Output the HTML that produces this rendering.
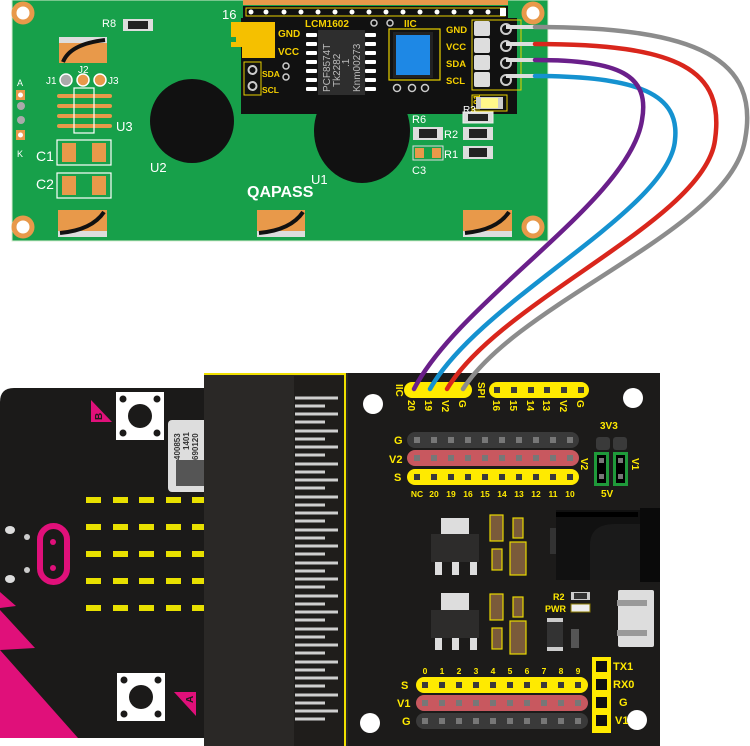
<!DOCTYPE html>
<html><head><meta charset="utf-8"><style>
html,body{margin:0;padding:0;background:#fff;}
svg{display:block;font-family:"Liberation Sans",sans-serif;}
</style></head><body>
<svg width="750" height="746" viewBox="0 0 750 746" xmlns="http://www.w3.org/2000/svg">
<!-- LCD board -->
<rect x="12" y="0" width="536" height="241" fill="#17a04a"/>
<rect x="12" y="0" width="536" height="241" fill="none" stroke="#d8eed2" stroke-width="1"/>
<g fill="#fff" stroke="#e8994a" stroke-width="5">
<circle cx="23" cy="13" r="9"/><circle cx="533" cy="13" r="9"/><circle cx="23" cy="227" r="9"/><circle cx="533" cy="227" r="9"/>
</g>
<g fill="#e8994a">
<rect x="243" y="0" width="265" height="5"/>
</g>
<rect x="243" y="6" width="265" height="12" fill="#111"/>
<rect x="246" y="8" width="259" height="8" fill="none" stroke="#e8d000" stroke-width="1"/>
<g fill="#fff">
<circle cx="251" cy="12" r="2.5"/><circle cx="266" cy="12" r="2.5"/><circle cx="284" cy="12" r="2.5"/><circle cx="301" cy="12" r="2.5"/><circle cx="318" cy="12" r="2.5"/><circle cx="335" cy="12" r="2.5"/><circle cx="352" cy="12" r="2.5"/><circle cx="369" cy="12" r="2.5"/><circle cx="386" cy="12" r="2.5"/><circle cx="403" cy="12" r="2.5"/><circle cx="420" cy="12" r="2.5"/><circle cx="437" cy="12" r="2.5"/><circle cx="454" cy="12" r="2.5"/><circle cx="471" cy="12" r="2.5"/><circle cx="488" cy="12" r="2.5"/>
<rect x="500" y="8" width="6" height="8"/>
</g>
<text x="222" y="19" font-size="13" fill="#fff">16</text>
<text x="102" y="27" font-size="11" fill="#fff">R8</text>
<rect x="123" y="19" width="30" height="12" fill="#ddd"/><rect x="128" y="21" width="20" height="8" fill="#222"/>
<rect x="59" y="37" width="48" height="26" fill="#e8994a"/><rect x="59" y="37" width="48" height="6" fill="#ddd"/>
<path d="M63 62 Q70 44 105 40" stroke="#111" stroke-width="4" fill="none"/>
<text x="46" y="84" font-size="10" fill="#fff">J1</text><text x="78" y="73" font-size="10" fill="#fff">J2</text><text x="108" y="84" font-size="10" fill="#fff">J3</text>
<circle cx="66" cy="80" r="6" fill="#aaa" stroke="#fff" stroke-width="1.5"/>
<circle cx="83" cy="80" r="6" fill="#e8994a" stroke="#fff" stroke-width="1.5"/>
<circle cx="100" cy="80" r="6" fill="#e8994a" stroke="#fff" stroke-width="1.5"/>
<g fill="#e8994a"><rect x="57" y="94" width="55" height="4" rx="2"/><rect x="57" y="104" width="55" height="4" rx="2"/><rect x="57" y="114" width="55" height="4" rx="2"/><rect x="57" y="124" width="55" height="4" rx="2"/></g>
<rect x="74" y="88" width="20" height="45" fill="none" stroke="#fff" stroke-width="1.2"/>
<text x="116" y="131" font-size="13" fill="#fff">U3</text>
<text x="17" y="86" font-size="9" fill="#fff">A</text>
<rect x="16" y="90" width="9" height="10" fill="#e8994a"/><circle cx="20.5" cy="95" r="2.5" fill="#fff"/>
<circle cx="21" cy="106" r="4" fill="#aaa"/><circle cx="21" cy="120" r="4" fill="#aaa"/>
<rect x="16" y="130" width="9" height="10" fill="#e8994a"/><circle cx="20.5" cy="135" r="2.5" fill="#fff"/>
<text x="17" y="157" font-size="9" fill="#fff">K</text>
<text x="36" y="161" font-size="14" fill="#fff">C1</text>
<rect x="57" y="140" width="54" height="25" fill="none" stroke="#fff" stroke-width="1.2"/>
<rect x="62" y="143" width="14" height="19" fill="#e8994a"/><rect x="92" y="143" width="14" height="19" fill="#e8994a"/>
<text x="36" y="189" font-size="14" fill="#fff">C2</text>
<rect x="57" y="173" width="54" height="25" fill="none" stroke="#fff" stroke-width="1.2"/>
<rect x="62" y="176" width="14" height="19" fill="#e8994a"/><rect x="92" y="176" width="14" height="19" fill="#e8994a"/>
<circle cx="192" cy="121" r="42" fill="#111"/>
<text x="150" y="172" font-size="13" fill="#fff">U2</text>
<ellipse cx="362" cy="131" rx="48" ry="52" fill="#111"/>
<text x="311" y="184" font-size="13" fill="#fff">U1</text>
<text x="247" y="197" font-size="16" font-weight="bold" fill="#fff">QAPASS</text>
<g>
<rect x="58" y="210" width="49" height="27" fill="#e8994a"/><rect x="58" y="231" width="49" height="6" fill="#ddd"/>
<path d="M60 233 Q92 230 104 212" stroke="#111" stroke-width="4" fill="none"/>
<rect x="257" y="210" width="48" height="27" fill="#e8994a"/><rect x="257" y="231" width="48" height="6" fill="#ddd"/>
<path d="M259 233 Q291 230 303 212" stroke="#111" stroke-width="4" fill="none"/>
<rect x="463" y="210" width="49" height="27" fill="#e8994a"/><rect x="463" y="231" width="49" height="6" fill="#ddd"/>
<path d="M465 233 Q497 230 509 212" stroke="#111" stroke-width="4" fill="none"/>
</g>
<rect x="241" y="18" width="276" height="96" fill="#111"/>
<path d="M231 22 H275 V58 H242 V47 H231 V42 H236 V37 H231 Z" fill="#f5c000"/>
<text x="278" y="37" font-size="10" font-weight="bold" fill="#f5d000">GND</text>
<text x="278" y="55" font-size="10" font-weight="bold" fill="#f5d000">VCC</text>
<rect x="244" y="62" width="17" height="33" fill="none" stroke="#e8d000" stroke-width="1"/>
<circle cx="252.5" cy="70" r="4" fill="none" stroke="#ccc" stroke-width="2"/><circle cx="252.5" cy="86" r="4" fill="none" stroke="#ccc" stroke-width="2"/>
<text x="262" y="77" font-size="8.5" font-weight="bold" fill="#f5d000">SDA</text>
<text x="262" y="93" font-size="8.5" font-weight="bold" fill="#f5d000">SCL</text>
<circle cx="286" cy="66" r="3" fill="none" stroke="#ccc" stroke-width="1.5"/><circle cx="286" cy="77" r="3" fill="none" stroke="#ccc" stroke-width="1.5"/>
<text x="305" y="27" font-size="10" font-weight="bold" fill="#f5d000">LCM1602</text>
<g fill="#fff">
<rect x="306" y="33" width="11" height="4" rx="1"/><rect x="306" y="42" width="11" height="4" rx="1"/><rect x="306" y="51" width="11" height="4" rx="1"/><rect x="306" y="60" width="11" height="4" rx="1"/><rect x="306" y="69" width="11" height="4" rx="1"/><rect x="306" y="78" width="11" height="4" rx="1"/><rect x="306" y="87" width="11" height="4" rx="1"/>
<rect x="365" y="33" width="11" height="4" rx="1"/><rect x="365" y="42" width="11" height="4" rx="1"/><rect x="365" y="51" width="11" height="4" rx="1"/><rect x="365" y="60" width="11" height="4" rx="1"/><rect x="365" y="69" width="11" height="4" rx="1"/><rect x="365" y="78" width="11" height="4" rx="1"/><rect x="365" y="87" width="11" height="4" rx="1"/>
</g>
<rect x="318" y="30" width="47" height="65" fill="#2e2e2e"/>
<g font-size="10" fill="#bbb">
<text transform="translate(330,92) rotate(-90)">PCF8574T</text>
<text transform="translate(340,87) rotate(-90)">Tk2282</text>
<text transform="translate(349,67) rotate(-90)">.1</text>
<text transform="translate(360,92) rotate(-90)">Knm00273</text>
</g>
<circle cx="374" cy="23" r="3" fill="none" stroke="#ccc" stroke-width="1.5"/><circle cx="390" cy="23" r="3" fill="none" stroke="#ccc" stroke-width="1.5"/>
<text x="404" y="27" font-size="10" font-weight="bold" fill="#f5d000">IIC</text>
<rect x="389" y="29" width="51" height="51" fill="none" stroke="#e8d000" stroke-width="1.2"/>
<rect x="393" y="32" width="40" height="46" fill="#222"/><rect x="396" y="35" width="34" height="40" fill="#1e88e5"/>
<circle cx="397" cy="88" r="3.5" fill="none" stroke="#ccc" stroke-width="1.5"/><circle cx="412" cy="88" r="3.5" fill="none" stroke="#ccc" stroke-width="1.5"/><circle cx="425" cy="88" r="3.5" fill="none" stroke="#ccc" stroke-width="1.5"/>
<g font-size="9.5" font-weight="bold" fill="#f5d000">
<text x="446" y="33">GND</text><text x="446" y="50">VCC</text><text x="446" y="67">SDA</text><text x="446" y="84">SCL</text>
</g>
<rect x="472" y="20" width="49" height="70" fill="none" stroke="#e8d000" stroke-width="1"/>
<g fill="#ddd"><rect x="474" y="21" width="16" height="15" rx="2"/><rect x="474" y="38" width="16" height="15" rx="2"/><rect x="474" y="55" width="16" height="15" rx="2"/><rect x="474" y="72" width="16" height="15" rx="2"/></g>
<g fill="none" stroke="#ccc" stroke-width="2"><circle cx="506" cy="29" r="5"/><circle cx="506" cy="46" r="5"/><circle cx="506" cy="63" r="5"/><circle cx="506" cy="80" r="5"/></g>
<text transform="translate(480,110) rotate(-90)" font-size="9" font-weight="bold" fill="#f5d000">L01</text>
<rect x="472" y="95" width="35" height="16" fill="none" stroke="#e8d000" stroke-width="1"/>
<rect x="476" y="97" width="27" height="12" fill="#ccc"/><rect x="481" y="98" width="17" height="10" fill="#fff78a"/>
<text x="412" y="123" font-size="11" fill="#fff">R6</text>
<text x="463" y="113" font-size="10" fill="#fff">R3</text>
<rect x="463" y="112" width="30" height="11" fill="#ddd" stroke="#eee"/><rect x="468" y="114" width="20" height="7" fill="#222"/>
<rect x="413" y="127" width="30" height="13" fill="#ddd"/><rect x="419" y="129" width="18" height="9" fill="#222"/>
<text x="444" y="138" font-size="11" fill="#fff">R2</text>
<rect x="463" y="127" width="30" height="13" fill="#ddd"/><rect x="469" y="129" width="18" height="9" fill="#222"/>
<rect x="413" y="146" width="30" height="14" fill="none" stroke="#ddd" stroke-width="1"/><rect x="415" y="148" width="9" height="10" fill="#e8994a"/><rect x="432" y="148" width="9" height="10" fill="#e8994a"/>
<text x="444" y="158" font-size="11" fill="#fff">R1</text>
<rect x="463" y="146" width="30" height="13" fill="#ddd"/><rect x="469" y="148" width="18" height="9" fill="#222"/>
<text x="412" y="174" font-size="11" fill="#fff">C3</text>
<g stroke="#ddd" stroke-width="4"><line x1="506" y1="27" x2="537" y2="27"/><line x1="506" y1="44" x2="537" y2="44"/><line x1="506" y1="60" x2="537" y2="60"/><line x1="506" y1="76" x2="537" y2="76"/></g>

<!-- micro:bit -->
<path d="M14 388 H206 V738 H14 Q0 738 0 724 V402 Q0 388 14 388 Z" fill="#1b1a19"/>
<path d="M0 592 L16 606 L0 608 Z M0 610 L35 648 L0 650 Z M0 650 L78 738 L0 738 Z" fill="#e0107a"/>
<rect x="116" y="392" width="48" height="48" fill="#fff"/><circle cx="140" cy="416" r="12" fill="#1b1a19"/>
<g fill="#1b1a19"><circle cx="123" cy="399" r="3.5"/><circle cx="157" cy="399" r="3.5"/><circle cx="123" cy="433" r="3.5"/><circle cx="157" cy="433" r="3.5"/></g>
<path d="M91 400 L112 422 L91 422 Z" fill="#e0107a"/><text transform="translate(102,420) rotate(-90)" font-size="10" font-weight="bold" fill="#1b1a19">B</text>
<rect x="117" y="673" width="48" height="48" fill="#fff"/><circle cx="141" cy="697" r="12" fill="#1b1a19"/>
<g fill="#1b1a19"><circle cx="124" cy="680" r="3.5"/><circle cx="158" cy="680" r="3.5"/><circle cx="124" cy="714" r="3.5"/><circle cx="158" cy="714" r="3.5"/></g>
<path d="M196 692 L196 716 L174 692 Z" fill="#e0107a"/><text transform="translate(193,703) rotate(-90)" font-size="10" font-weight="bold" fill="#1b1a19">A</text>
<rect x="168" y="420" width="40" height="72" rx="4" fill="#ddd"/>
<g font-size="8" font-weight="bold" fill="#333"><text transform="translate(180,460) rotate(-90)">400853</text><text transform="translate(189,450) rotate(-90)">1401</text><text transform="translate(198,460) rotate(-90)">690120</text></g>
<rect x="176" y="460" width="28" height="26" fill="#555"/>
<g fill="#e8e000">
<rect x="86" y="497" width="15" height="6"/><rect x="113" y="497" width="15" height="6"/><rect x="139" y="497" width="15" height="6"/><rect x="166" y="497" width="15" height="6"/><rect x="192" y="497" width="14" height="6"/>
<rect x="86" y="524" width="15" height="6"/><rect x="113" y="524" width="15" height="6"/><rect x="139" y="524" width="15" height="6"/><rect x="166" y="524" width="15" height="6"/><rect x="192" y="524" width="14" height="6"/>
<rect x="86" y="551" width="15" height="6"/><rect x="113" y="551" width="15" height="6"/><rect x="139" y="551" width="15" height="6"/><rect x="166" y="551" width="15" height="6"/><rect x="192" y="551" width="14" height="6"/>
<rect x="86" y="578" width="15" height="6"/><rect x="113" y="578" width="15" height="6"/><rect x="139" y="578" width="15" height="6"/><rect x="166" y="578" width="15" height="6"/><rect x="192" y="578" width="14" height="6"/>
<rect x="86" y="605" width="15" height="6"/><rect x="113" y="605" width="15" height="6"/><rect x="139" y="605" width="15" height="6"/><rect x="166" y="605" width="15" height="6"/><rect x="192" y="605" width="14" height="6"/>
</g>
<rect x="40" y="526" width="27" height="56" rx="13.5" fill="none" stroke="#e0107a" stroke-width="6"/>
<circle cx="53" cy="542" r="3" fill="#e0107a"/><circle cx="53" cy="568" r="3" fill="#e0107a"/>
<ellipse cx="10" cy="530" rx="5" ry="4" fill="#ddd"/><ellipse cx="10" cy="579" rx="5" ry="4" fill="#ddd"/>
<circle cx="27" cy="537" r="3" fill="#ccc"/><circle cx="27" cy="570" r="3" fill="#ccc"/>
<!-- edge connector -->
<rect x="204" y="373" width="144" height="373" fill="#2a2826"/>
<rect x="294" y="376" width="50" height="370" fill="#1f1d1b"/>
<path d="M204 374 H345 V746" fill="none" stroke="#f0e000" stroke-width="2"/>
<g stroke="#cfcfcf" stroke-width="3">
<line x1="295" y1="398" x2="338" y2="398"/><line x1="295" y1="406" x2="325" y2="406"/>
<line x1="295" y1="414" x2="338" y2="414"/><line x1="295" y1="422" x2="325" y2="422"/>
<line x1="295" y1="431" x2="338" y2="431"/><line x1="295" y1="439" x2="325" y2="439"/>
<line x1="295" y1="447" x2="338" y2="447"/><line x1="295" y1="455" x2="325" y2="455"/>
<line x1="295" y1="464" x2="338" y2="464"/><line x1="295" y1="472" x2="325" y2="472"/>
<line x1="295" y1="480" x2="338" y2="480"/><line x1="295" y1="488" x2="325" y2="488"/>
<line x1="295" y1="497" x2="338" y2="497"/><line x1="295" y1="505" x2="325" y2="505"/>
<line x1="295" y1="513" x2="338" y2="513"/><line x1="295" y1="521" x2="325" y2="521"/>
<line x1="295" y1="530" x2="338" y2="530"/><line x1="295" y1="538" x2="325" y2="538"/>
<line x1="295" y1="546" x2="338" y2="546"/><line x1="295" y1="554" x2="325" y2="554"/>
<line x1="295" y1="563" x2="338" y2="563"/><line x1="295" y1="571" x2="325" y2="571"/>
<line x1="295" y1="579" x2="338" y2="579"/><line x1="295" y1="587" x2="325" y2="587"/>
<line x1="295" y1="596" x2="338" y2="596"/><line x1="295" y1="604" x2="325" y2="604"/>
<line x1="295" y1="612" x2="338" y2="612"/><line x1="295" y1="620" x2="325" y2="620"/>
<line x1="295" y1="629" x2="338" y2="629"/><line x1="295" y1="637" x2="325" y2="637"/>
<line x1="295" y1="645" x2="338" y2="645"/><line x1="295" y1="653" x2="325" y2="653"/>
<line x1="295" y1="662" x2="338" y2="662"/><line x1="295" y1="670" x2="325" y2="670"/>
<line x1="295" y1="678" x2="338" y2="678"/><line x1="295" y1="686" x2="325" y2="686"/>
<line x1="295" y1="695" x2="338" y2="695"/><line x1="295" y1="703" x2="325" y2="703"/>
<line x1="295" y1="711" x2="338" y2="711"/><line x1="295" y1="719" x2="325" y2="719"/>
</g>
<!-- expansion board -->
<rect x="348" y="373" width="312" height="373" fill="#1c1b1a"/>
<g fill="#fff"><circle cx="373" cy="404" r="10"/><circle cx="633" cy="398" r="10"/><circle cx="370" cy="723" r="10"/><circle cx="637" cy="720" r="10"/></g>
<g fill="#ffea00">
<rect x="404" y="382" width="68" height="16" rx="8"/><rect x="489" y="382" width="100" height="16" rx="8"/>
</g>
<g fill="#3a3a3a"><rect x="494" y="387" width="6" height="6"/><rect x="511" y="387" width="6" height="6"/><rect x="528" y="387" width="6" height="6"/><rect x="544" y="387" width="6" height="6"/><rect x="561" y="387" width="6" height="6"/><rect x="578" y="387" width="6" height="6"/></g>
<g font-size="10" font-weight="bold" fill="#ffea00">
<text transform="translate(396,384) rotate(90)">IIC</text>
<text transform="translate(408,400) rotate(90)">20</text>
<text transform="translate(425,400) rotate(90)">19</text>
<text transform="translate(442,400) rotate(90)">V2</text>
<text transform="translate(459,400) rotate(90)">G</text>
<text transform="translate(478,382) rotate(90)">SPI</text>
<text transform="translate(493,400) rotate(90)">16</text>
<text transform="translate(510,400) rotate(90)">15</text>
<text transform="translate(527,400) rotate(90)">14</text>
<text transform="translate(543,400) rotate(90)">13</text>
<text transform="translate(560,400) rotate(90)">V2</text>
<text transform="translate(577,400) rotate(90)">G</text>
</g>
<rect x="407" y="432" width="172" height="16" rx="8" fill="#3a3a3a"/>
<rect x="407" y="450" width="172" height="16" rx="8" fill="#c8585f"/>
<rect x="407" y="469" width="172" height="16" rx="8" fill="#ffea00"/>
<g fill="#777">
<rect x="414" y="437" width="6" height="6"/><rect x="431" y="437" width="6" height="6"/><rect x="448" y="437" width="6" height="6"/><rect x="465" y="437" width="6" height="6"/><rect x="482" y="437" width="6" height="6"/><rect x="499" y="437" width="6" height="6"/><rect x="516" y="437" width="6" height="6"/><rect x="533" y="437" width="6" height="6"/><rect x="550" y="437" width="6" height="6"/><rect x="567" y="437" width="6" height="6"/>
<rect x="414" y="455" width="6" height="6"/><rect x="431" y="455" width="6" height="6"/><rect x="448" y="455" width="6" height="6"/><rect x="465" y="455" width="6" height="6"/><rect x="482" y="455" width="6" height="6"/><rect x="499" y="455" width="6" height="6"/><rect x="516" y="455" width="6" height="6"/><rect x="533" y="455" width="6" height="6"/><rect x="550" y="455" width="6" height="6"/><rect x="567" y="455" width="6" height="6"/>
</g>
<g fill="#3a3a3a">
<rect x="414" y="474" width="6" height="6"/><rect x="431" y="474" width="6" height="6"/><rect x="448" y="474" width="6" height="6"/><rect x="465" y="474" width="6" height="6"/><rect x="482" y="474" width="6" height="6"/><rect x="499" y="474" width="6" height="6"/><rect x="516" y="474" width="6" height="6"/><rect x="533" y="474" width="6" height="6"/><rect x="550" y="474" width="6" height="6"/><rect x="567" y="474" width="6" height="6"/>
</g>
<g font-size="11" font-weight="bold" fill="#ffea00">
<text x="394" y="444">G</text><text x="389" y="463">V2</text><text x="394" y="481">S</text>
</g>
<g font-size="8.5" font-weight="bold" fill="#ffea00" text-anchor="middle">
<text x="417" y="497">NC</text><text x="434" y="497">20</text><text x="451" y="497">19</text><text x="468" y="497">16</text><text x="485" y="497">15</text><text x="502" y="497">14</text><text x="519" y="497">13</text><text x="536" y="497">12</text><text x="553" y="497">11</text><text x="570" y="497">10</text>
</g>
<text x="600" y="429" font-size="10" font-weight="bold" fill="#ffea00">3V3</text>
<rect x="596" y="437" width="14" height="13" rx="3" fill="#3a3a3a"/><rect x="613" y="437" width="14" height="13" rx="3" fill="#3a3a3a"/>
<rect x="594" y="452" width="15" height="34" fill="#1f9a3a"/><rect x="613" y="452" width="15" height="34" fill="#1f9a3a"/>
<rect x="597" y="455" width="9" height="28" fill="#000"/><rect x="616" y="455" width="9" height="28" fill="#000"/>
<g fill="#777"><rect x="599" y="458" width="5" height="5"/><rect x="599" y="474" width="5" height="5"/><rect x="618" y="458" width="5" height="5"/><rect x="618" y="474" width="5" height="5"/></g>
<text x="601" y="497" font-size="10" font-weight="bold" fill="#ffea00">5V</text>
<text transform="translate(581,458) rotate(90)" font-size="10" font-weight="bold" fill="#ffea00">V2</text>
<text transform="translate(632,458) rotate(90)" font-size="10" font-weight="bold" fill="#ffea00">V1</text>
<rect x="441" y="518" width="28" height="16" fill="#ddd"/><rect x="431" y="534" width="48" height="28" fill="#2d2c2b"/>
<g fill="#ddd"><rect x="435" y="562" width="7" height="13"/><rect x="452" y="562" width="7" height="13"/><rect x="470" y="562" width="7" height="13"/></g>
<rect x="441" y="593" width="28" height="17" fill="#ddd"/><rect x="431" y="610" width="48" height="28" fill="#2d2c2b"/>
<g fill="#ddd"><rect x="435" y="638" width="7" height="12"/><rect x="452" y="638" width="7" height="12"/><rect x="470" y="638" width="7" height="12"/></g>
<g stroke="#e8d800" stroke-width="1.2">
<rect x="490" y="515" width="13" height="26" fill="#7a5a3a"/><rect x="513" y="518" width="10" height="20" fill="#7a5a3a"/>
<rect x="492" y="549" width="10" height="21" fill="#7a5a3a"/><rect x="510" y="542" width="16" height="33" fill="#7a5a3a"/>
<rect x="490" y="594" width="13" height="26" fill="#7a5a3a"/><rect x="513" y="597" width="10" height="20" fill="#7a5a3a"/>
<rect x="492" y="628" width="10" height="21" fill="#7a5a3a"/><rect x="510" y="621" width="16" height="33" fill="#7a5a3a"/>
</g>
<rect x="556" y="510" width="104" height="70" fill="#111"/>
<rect x="556" y="512" width="82" height="5" fill="#000"/>
<path d="M590 580 V545 Q590 524 615 524 H640 V580 Z" fill="#1a1a1a"/>
<rect x="550" y="528" width="6" height="26" fill="#333"/>
<rect x="640" y="508" width="20" height="74" fill="#0a0a0a"/>
<rect x="618" y="590" width="36" height="57" rx="2" fill="#ddd"/>
<rect x="617" y="600" width="30" height="6" fill="#999"/><rect x="617" y="630" width="30" height="6" fill="#999"/>
<text x="553" y="600" font-size="9" font-weight="bold" fill="#ffea00">R2</text>
<rect x="571" y="592" width="19" height="8" fill="#ccc"/><rect x="574" y="593" width="13" height="6" fill="#333"/>
<text x="545" y="612" font-size="9" font-weight="bold" fill="#ffea00">PWR</text>
<rect x="571" y="604" width="19" height="8" fill="#eee" stroke="#8a7a00"/>
<rect x="547" y="618" width="16" height="33" fill="#333"/><rect x="547" y="618" width="16" height="4" fill="#ccc"/><rect x="547" y="647" width="16" height="4" fill="#ccc"/>
<rect x="571" y="629" width="8" height="19" fill="#555"/>
<g font-size="8.5" font-weight="bold" fill="#ffea00" text-anchor="middle">
<text x="425" y="674">0</text><text x="442" y="674">1</text><text x="459" y="674">2</text><text x="476" y="674">3</text><text x="493" y="674">4</text><text x="510" y="674">5</text><text x="527" y="674">6</text><text x="544" y="674">7</text><text x="561" y="674">8</text><text x="578" y="674">9</text>
</g>
<rect x="416" y="677" width="172" height="16" rx="8" fill="#ffea00"/>
<rect x="416" y="695" width="172" height="16" rx="8" fill="#c8585f"/>
<rect x="416" y="713" width="172" height="16" rx="8" fill="#3a3a3a"/>
<g fill="#3a3a3a">
<rect x="422" y="682" width="6" height="6"/><rect x="439" y="682" width="6" height="6"/><rect x="456" y="682" width="6" height="6"/><rect x="473" y="682" width="6" height="6"/><rect x="490" y="682" width="6" height="6"/><rect x="507" y="682" width="6" height="6"/><rect x="524" y="682" width="6" height="6"/><rect x="541" y="682" width="6" height="6"/><rect x="558" y="682" width="6" height="6"/><rect x="575" y="682" width="6" height="6"/>
</g>
<g fill="#777">
<rect x="422" y="700" width="6" height="6"/><rect x="439" y="700" width="6" height="6"/><rect x="456" y="700" width="6" height="6"/><rect x="473" y="700" width="6" height="6"/><rect x="490" y="700" width="6" height="6"/><rect x="507" y="700" width="6" height="6"/><rect x="524" y="700" width="6" height="6"/><rect x="541" y="700" width="6" height="6"/><rect x="558" y="700" width="6" height="6"/><rect x="575" y="700" width="6" height="6"/>
<rect x="422" y="718" width="6" height="6"/><rect x="439" y="718" width="6" height="6"/><rect x="456" y="718" width="6" height="6"/><rect x="473" y="718" width="6" height="6"/><rect x="490" y="718" width="6" height="6"/><rect x="507" y="718" width="6" height="6"/><rect x="524" y="718" width="6" height="6"/><rect x="541" y="718" width="6" height="6"/><rect x="558" y="718" width="6" height="6"/><rect x="575" y="718" width="6" height="6"/>
</g>
<g font-size="11" font-weight="bold" fill="#ffea00">
<text x="401" y="689">S</text><text x="397" y="707">V1</text><text x="402" y="725">G</text>
</g>
<rect x="592" y="657" width="19" height="76" fill="#ffea00"/>
<g fill="#111"><rect x="596" y="661" width="11" height="11"/><rect x="596" y="679" width="11" height="11"/><rect x="596" y="697" width="11" height="11"/><rect x="596" y="715" width="11" height="11"/></g>
<g font-size="11" font-weight="bold" fill="#ffea00">
<text x="613" y="670">TX1</text><text x="613" y="688">RX0</text><text x="619" y="706">G</text><text x="615" y="724">V1</text>
</g>
<g fill="none" stroke-width="4.5" stroke-linecap="round">
<path d="M535 27 C700 27 760 60 745 140 C730 230 520 300 463 389" stroke="#8c8c8c"/>
<path d="M535 44 C680 44 725 70 715 140 C705 220 500 300 447 389" stroke="#d9261c"/>
<path d="M535 76 C640 76 680 95 675 140 C670 210 480 300 430 389" stroke="#1592d0"/>
<path d="M535 60 C620 60 650 75 642 120 C630 200 460 300 414 389" stroke="#6a1f8a"/>
</g>
</svg>
</body></html>
